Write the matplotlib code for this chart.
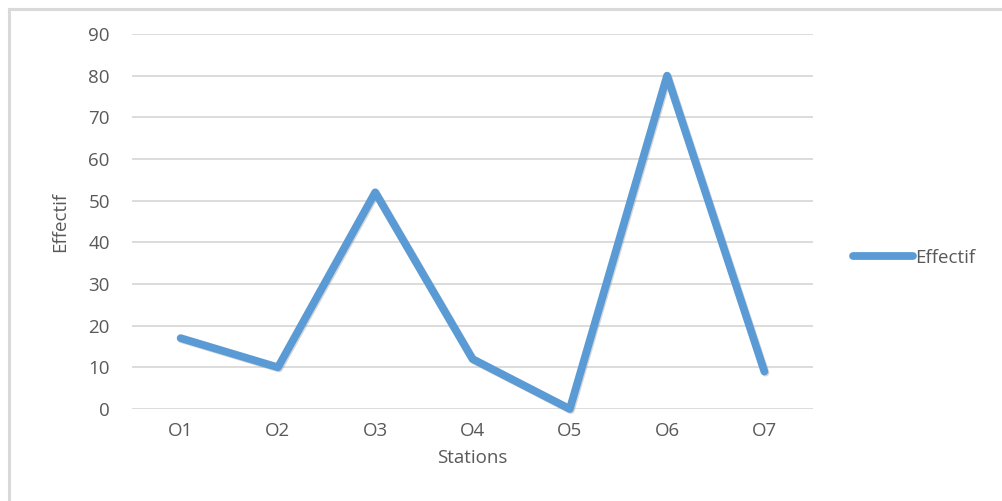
import matplotlib
matplotlib.use("Agg")
import matplotlib.pyplot as plt
import matplotlib.patheffects as pe
from matplotlib.lines import Line2D

stations = ["O1", "O2", "O3", "O4", "O5", "O6", "O7"]
effectif = [17, 10, 52, 12, 0, 80, 9]
yticks = [0, 10, 20, 30, 40, 50, 60, 70, 80, 90]

W, H = 1003, 501
fig = plt.figure(figsize=(W / 100, H / 100), dpi=100)
plt.rcParams["font.family"] = ["Open Sans", "DejaVu Sans"]

# plot area in pixel terms
left, right, top, bottom = 132, 813, 34, 409
ax = fig.add_axes([left / W, 1 - bottom / H, (right - left) / W, (bottom - top) / H])

line_color = "#5B9BD5"
text_color = "#595959"
grid_color = "#D9D9D9"
fs = 13.5

x = list(range(len(stations)))
ax.plot(x, effectif, color=line_color, lw=5.6, solid_joinstyle="round",
        solid_capstyle="round", label="Effectif", clip_on=False, zorder=3,
        path_effects=[pe.SimpleLineShadow(offset=(0.8, -0.8), shadow_color="#888888", alpha=0.35),
                      pe.Normal()])

ax.set_xlim(-0.5, len(stations) - 0.5)
ax.set_ylim(0, 90)
ax.set_yticks(yticks)
ax.set_xticks(x)
ax.set_xticklabels(stations)
ax.yaxis.grid(True, color=grid_color, lw=1.3)
ax.set_axisbelow(True)
for s in ax.spines.values():
    s.set_visible(False)
ax.tick_params(axis="both", length=0, colors=text_color, labelsize=fs)
ax.tick_params(axis="y", pad=16)
ax.tick_params(axis="x", pad=9)

ax.set_xlabel("Stations", color=text_color, fontsize=fs, labelpad=7)
ax.set_ylabel("Effectif", color=text_color, fontsize=fs, labelpad=14)

handle = Line2D([0], [0], color=line_color, lw=5.6, solid_capstyle="round")
fig.legend([handle], ["Effectif"], loc="center left",
           bbox_to_anchor=(853 / W, 1 - 258 / H), frameon=False,
           handlelength=3.2, handletextpad=0.1, fontsize=fs,
           labelcolor=text_color, borderpad=0, borderaxespad=0)

# outer chart border (left and top edges visible)
fig.add_artist(Line2D([9 / W, 9 / W], [0, 1 - 9 / H], color="#D9D9D9", lw=2.2,
                      transform=fig.transFigure))
fig.add_artist(Line2D([9 / W, 1], [1 - 9 / H, 1 - 9 / H], color="#D9D9D9", lw=2.2,
                      transform=fig.transFigure))

fig.savefig("out.png", dpi=100)
